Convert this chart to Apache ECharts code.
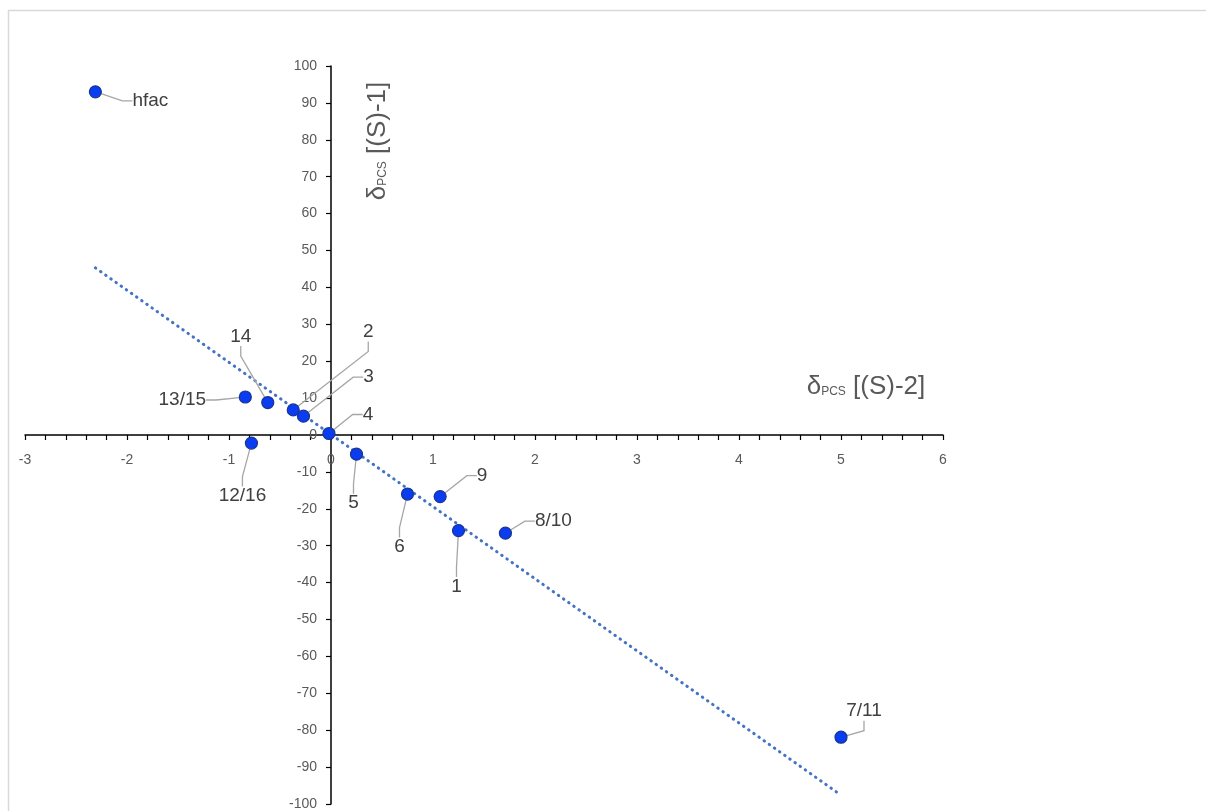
<!DOCTYPE html>
<html>
<head>
<meta charset="utf-8">
<script src="https://cdn.jsdelivr.net/npm/echarts@6/dist/echarts.min.js"></script>
<style>
  html, body { margin: 0; padding: 0; background: #fff; }
  #chart { width: 1206px; height: 811px; }
</style>
</head>
<body>
<div id="chart"></div>
<script>
// Compound labels and their δPCS values for the two enantiomeric tags
const pointNames = ['hfac', '13/15', '14', '2', '3', '4', '12/16', '5', '6', '9', '1', '8/10', '7/11'];
const deltaS2 = [-2.31, -0.84, -0.62, -0.37, -0.27, -0.02, -0.78, 0.25, 0.75, 1.07, 1.25, 1.71, 5.0];
const deltaS1 = [93.0, 10.3, 8.8, 6.8, 5.1, 0.4, -2.2, -5.2, -16.0, -16.7, -25.9, -26.6, -81.9];

// Linear trend line endpoints
const trendX = [-2.31, 5.0];
const trendY = [45.3, -97.6];

// Axis ranges
const xRange = { min: -3, max: 6, step: 1 };
const yRange = { min: -100, max: 100, step: 10 };

// Where each label sits relative to its point (pixels)
const labelOffsets = {
  'hfac': [55, 9], '13/15': [-63, 3], '14': [-27, -66], '2': [75, -78],
  '3': [65, -39], '4': [39, -19], '12/16': [-9, 53], '5': [-3, 49],
  '6': [-8, 53], '9': [42, -21], '1': [-2, 56], '8/10': [48, -12], '7/11': [23, -26]
};

// Plot area in pixels; the axes cross at the origin inside it
const GRID = { left: 25, right: 263, top: 66, bottom: 7 };
const W = 1206, H = 811;
const plotW = W - GRID.left - GRID.right;
const plotH = H - GRID.top - GRID.bottom;
const yAxisShift = (0 - xRange.min) / (xRange.max - xRange.min) * plotW;
const xAxisShift = (0 - yRange.min) / (yRange.max - yRange.min) * plotH;

const chart = echarts.init(document.getElementById('chart'), null, { renderer: 'canvas' });

const scatterData = pointNames.map((n, i) => ({ name: n, value: [deltaS2[i], deltaS1[i]] }));
const trendData = trendX.map((x, i) => [x, trendY[i]]);

const axisFont = { color: '#595959', fontSize: 14, fontFamily: 'Liberation Sans' };
const titleRich = {
  d: { fontSize: 26, fill: '#595959', fontFamily: 'Liberation Sans' },
  s: { fontSize: 12, fill: '#595959', fontFamily: 'Liberation Sans', verticalAlign: 'bottom', padding: [0, 0, 2, 0] },
  m: { fontSize: 26, fill: '#595959', fontFamily: 'Liberation Sans' }
};

chart.setOption({
  animation: false,
  backgroundColor: '#ffffff',
  grid: Object.assign({ containLabel: false, outerBoundsMode: 'none' }, GRID),
  xAxis: {
    type: 'value',
    position: 'bottom',
    offset: -xAxisShift,
    min: xRange.min, max: xRange.max, interval: xRange.step,
    axisLine: { onZero: false, lineStyle: { color: '#000', width: 1.5 } },
    axisTick: { show: true, inside: false, length: 5, lineStyle: { color: '#000', width: 1.2 } },
    minorTick: { show: true, splitNumber: 5, length: 5, lineStyle: { color: '#000', width: 1.2 } },
    axisLabel: Object.assign({ margin: 18 }, axisFont),
    splitLine: { show: false }
  },
  yAxis: {
    type: 'value',
    position: 'left',
    offset: -yAxisShift,
    min: yRange.min, max: yRange.max, interval: yRange.step,
    axisLine: { onZero: false, lineStyle: { color: '#000', width: 1.5 } },
    axisTick: { show: true, inside: false, length: 5, lineStyle: { color: '#000', width: 1.2 } },
    axisLabel: Object.assign({ margin: 14 }, axisFont),
    splitLine: { show: false }
  },
  graphic: [
    {
      type: 'rect', silent: true, z: -10,
      shape: { x: 8.5, y: 10.5, width: 1400, height: 1000 },
      style: { fill: 'none', stroke: '#D9D9D9', lineWidth: 1.5 }
    },
    {
      type: 'text', x: 866, y: 387,
      style: {
        text: '{d|δ}{s|PCS}{m| [(S)-2]}', rich: titleRich, fill: '#595959',
        align: 'center', verticalAlign: 'middle'
      }
    },
    {
      type: 'text', x: 378, y: 141, rotation: Math.PI / 2,
      style: {
        text: '{d|δ}{s|PCS}{m| [(S)-1]}', rich: titleRich, fill: '#595959',
        align: 'center', verticalAlign: 'middle'
      }
    }
  ],
  series: [
    {
      type: 'line',
      data: trendData,
      symbol: 'none',
      z: 2,
      silent: true,
      lineStyle: { color: '#4472C4', width: 3, type: [0.5, 5.8], cap: 'round' }
    },
    {
      type: 'scatter',
      data: scatterData,
      symbol: 'circle',
      symbolSize: 12,
      z: 3,
      itemStyle: { color: '#0A3CF2', borderColor: '#1A3590', borderWidth: 1.2, opacity: 1 },
      label: {
        show: true,
        position: 'inside',
        formatter: p => p.name,
        color: '#404040',
        fontSize: 19,
        fontFamily: 'Liberation Sans'
      },
      labelLine: {
        show: true,
        length2: 10,
        lineStyle: { color: '#A6A6A6', width: 1.3 }
      },
      labelLayout: function (params) {
        const off = labelOffsets[pointNames[params.dataIndex]] || [0, 0];
        return { dx: off[0], dy: off[1] };
      }
    }
  ]
});
</script>
</body>
</html>
